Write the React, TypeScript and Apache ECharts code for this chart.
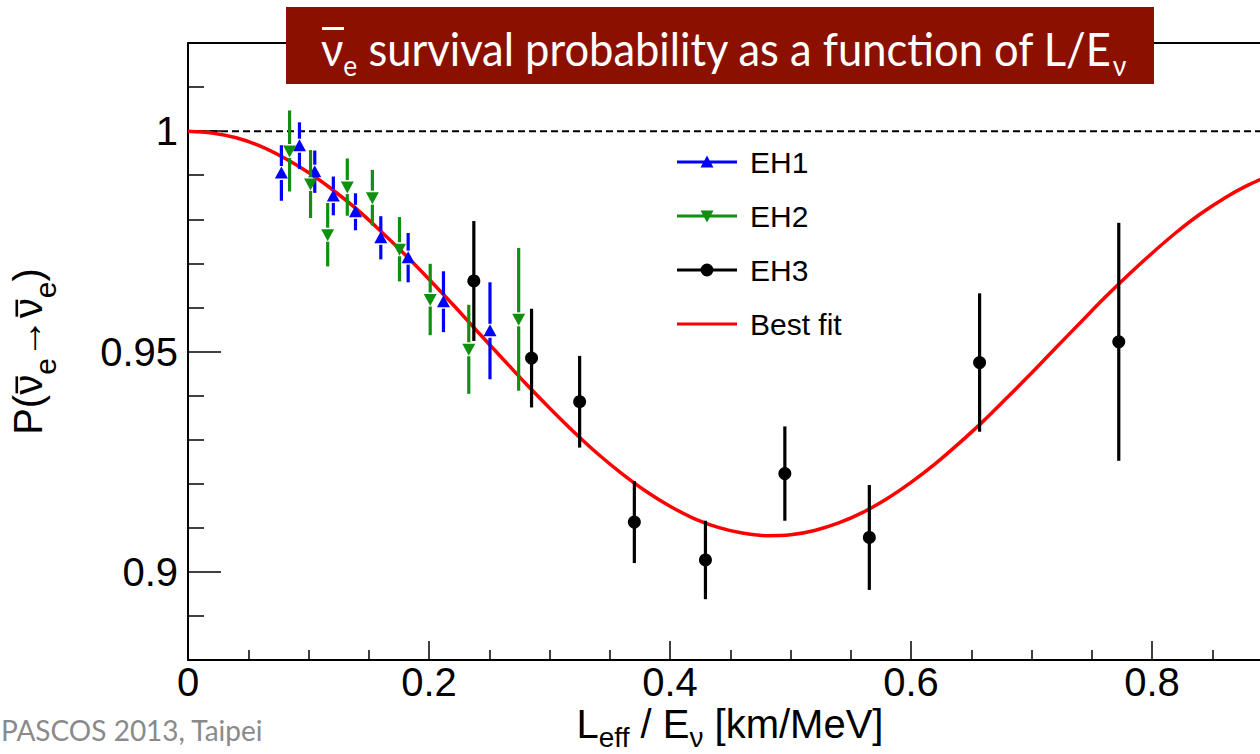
import { useEffect, useRef } from "react";
import * as echarts from "echarts";

// ---- data ----
const eh1X = [0.0775, 0.0925, 0.1052, 0.1206, 0.139, 0.16, 0.1827, 0.212, 0.2506];
const eh1Y = [0.9905, 0.9967, 0.9908, 0.9853, 0.9817, 0.9758, 0.9713, 0.9613, 0.9547];
const eh1Err = [0.0063, 0.0053, 0.0048, 0.0044, 0.0042, 0.0049, 0.0056, 0.0069, 0.011];

const eh2X = [0.0843, 0.1017, 0.1159, 0.1322, 0.153, 0.1755, 0.201, 0.233, 0.2744];
const eh2Y = [0.9955, 0.988, 0.9765, 0.9873, 0.9849, 0.9732, 0.9618, 0.9505, 0.9573];
const eh2Err = [0.0092, 0.0077, 0.0072, 0.0065, 0.0063, 0.0073, 0.0081, 0.0101, 0.0162];

const eh3X = [0.2372, 0.2851, 0.325, 0.3704, 0.4294, 0.4953, 0.5654, 0.6569, 0.7724];
const eh3Y = [0.966, 0.9485, 0.9386, 0.9113, 0.9027, 0.9223, 0.9078, 0.9475, 0.9522];
const eh3Err = [0.0136, 0.0112, 0.0104, 0.0093, 0.0089, 0.0107, 0.0119, 0.0157, 0.027];

const fitX = [
  0, 0.02, 0.04, 0.06, 0.08, 0.1, 0.12, 0.14, 0.16, 0.18, 0.2, 0.22, 0.24, 0.26, 0.28, 0.3,
  0.32, 0.34, 0.36, 0.38, 0.4, 0.42, 0.44, 0.46, 0.48, 0.5, 0.52, 0.54, 0.56, 0.58, 0.6,
  0.62, 0.64, 0.66, 0.68, 0.7, 0.72, 0.74, 0.76, 0.78, 0.8, 0.82, 0.84, 0.86, 0.88, 0.9,
];
const fitY = [
  1.0, 0.9996, 0.9985, 0.9966, 0.9939, 0.9906, 0.9867, 0.9823, 0.9773, 0.972, 0.9664, 0.9606,
  0.9546, 0.9487, 0.9428, 0.9372, 0.9318, 0.9268, 0.9223, 0.9183, 0.9149, 0.9121, 0.9101,
  0.9088, 0.9082, 0.9084, 0.9094, 0.9111, 0.9135, 0.9166, 0.9203, 0.9245, 0.9292, 0.9342,
  0.9396, 0.9451, 0.9508, 0.9564, 0.962, 0.9673, 0.9723, 0.977, 0.9812, 0.9848, 0.9878, 0.9902,
];

const xMajor = [0, 0.2, 0.4, 0.6, 0.8];
const xMinor = [0.05, 0.1, 0.15, 0.25, 0.3, 0.35, 0.45, 0.5, 0.55, 0.65, 0.7, 0.75, 0.85];
const yMajor = [0.9, 0.95, 1.0];
const yMinor = [0.89, 0.91, 0.92, 0.93, 0.94, 0.96, 0.97, 0.98, 0.99, 1.01];

const X_MIN = 0;
const X_MAX = 0.8896;
const Y_MIN = 0.88;
const Y_MAX = 1.02;

const FONT = "Liberation Sans";
const BLUE = "#0000ff";
const GREEN = "#109010";
const BLACK = "#000000";
const RED = "#ff0000";

const GRID_TOP = 43;
const GRID_BOTTOM_PX = 660;

const iconBox = "M0,0L0.01,0Z M68,30L67.99,30Z ";
const iconLine = "M0,13.5L60,13.5L60,16.5L0,16.5Z ";
const ICON_UP = "path://" + iconBox + iconLine + "M30,8.5L36.5,20.5L23.5,20.5Z";
const ICON_DOWN = "path://" + iconBox + iconLine + "M23.5,9.5L36.5,9.5L30,21.5Z";
const ICON_CIRCLE = "path://" + iconBox + iconLine + "M23.5,15A6.5,6.5 0 1,1 36.5,15A6.5,6.5 0 1,1 23.5,15Z";
const ICON_FIT = "path://" + iconBox + iconLine;

function makeRender(kind: "up" | "down" | "circle", color: string) {
  return (_params: any, api: any) => {
    const x = api.value(0);
    const y = api.value(1);
    const e = api.value(2);
    const c = api.coord([x, y]);
    const t = api.coord([x, y + e]);
    const b = api.coord([x, y - e]);
    const children: any[] = [];
    const gap = kind === "circle" ? 0 : 7;
    const ls = { stroke: color, lineWidth: 3.2 };
    if (c[1] - gap > t[1]) children.push({ type: "line", shape: { x1: c[0], y1: t[1], x2: c[0], y2: c[1] - gap }, style: ls });
    if (c[1] + gap < b[1]) children.push({ type: "line", shape: { x1: c[0], y1: c[1] + gap, x2: c[0], y2: b[1] }, style: ls });
    if (kind === "up") {
      children.push({ type: "polygon", shape: { points: [[c[0], c[1] - 6.5], [c[0] + 6.5, c[1] + 5.5], [c[0] - 6.5, c[1] + 5.5]] }, style: { fill: color } });
    } else if (kind === "down") {
      children.push({ type: "polygon", shape: { points: [[c[0] - 6.5, c[1] - 5.5], [c[0] + 6.5, c[1] - 5.5], [c[0], c[1] + 6.5]] }, style: { fill: color } });
    } else {
      children.push({ type: "circle", shape: { cx: c[0], cy: c[1], r: 6.5 }, style: { fill: color } });
    }
    return { type: "group", children };
  };
}

const fmtX = (v: number) => (v === 0 ? "0" : String(Number(v.toFixed(2))));
const fmtY = (v: number) => String(Number(v.toFixed(2)));

function measure(text: string, size: number, family: string) {
  const cv = document.createElement("canvas");
  const ctx = cv.getContext("2d");
  if (!ctx) return text.length * size * 0.5;
  ctx.font = `${size}px ${family}`;
  return ctx.measureText(text).width;
}

export default function App() {
  const ref = useRef<HTMLDivElement>(null);
  useEffect(() => {
    if (!ref.current) return;
    const chart = echarts.init(ref.current, null, { renderer: "svg" });
    const tickLine = { color: "#000", width: 1.5 };
    const subStyle = { fontSize: 30, lineHeight: 30, verticalAlign: "bottom", fontFamily: FONT, color: "#000" };
    const subStyleX = { fontSize: 28, lineHeight: 28, verticalAlign: "bottom", fontFamily: FONT, color: "#000" };

    // overbars for the rotated y-axis title (nu-bar)
    const wP = measure("P(", 40, FONT);
    const wNu = measure("ν", 40, FONT);
    const wE = measure("e", 30, FONT);
    const wArr = measure("→", 40, FONT);
    const wClose = measure(")", 40, FONT);
    const wTotal = wP + wNu + wE + wArr + wNu + wE + wClose;
    const yMid = (GRID_TOP + GRID_BOTTOM_PX) / 2;
    const start = yMid + wTotal / 2;
    const nu1End = start - wP;
    const nu2End = start - (wP + wNu + wE + wArr);
    const barX = 15.5;
    const bars = [nu1End, nu2End].map((end) => ({
      type: "rect",
      z: 100,
      shape: { x: barX, y: end - wNu + 1.5, width: 2.6, height: wNu - 3 },
      style: { fill: "#000" },
    }));

    const option: any = {
      animation: false,
      backgroundColor: "#ffffff",
      grid: { left: 188, right: 0, top: GRID_TOP, bottom: 754 - GRID_BOTTOM_PX, containLabel: false, outerBoundsMode: "none" },
      legend: {
        orient: "vertical",
        left: 672,
        top: 142,
        itemWidth: 68,
        itemHeight: 30,
        itemGap: 24,
        selectedMode: false,
        textStyle: { fontSize: 30, fontFamily: FONT, color: "#000", lineHeight: 30 },
        data: [
          { name: "EH1", icon: ICON_UP },
          { name: "EH2", icon: ICON_DOWN },
          { name: "EH3", icon: ICON_CIRCLE },
          { name: "Best fit", icon: ICON_FIT },
        ],
      },
      xAxis: [
        {
          type: "value",
          min: X_MIN,
          max: X_MAX,
          position: "bottom",
          axisLine: { show: true, onZero: false, lineStyle: { color: "#000", width: 2 } },
          axisTick: { show: true, inside: true, length: 19, customValues: xMajor, lineStyle: tickLine },
          axisLabel: { show: true, customValues: xMajor, formatter: fmtX, fontSize: 40, fontFamily: FONT, color: "#000", margin: 2 },
          splitLine: { show: false },
          name: "L{s|eff} / E{s|ν} [km/MeV]",
          nameLocation: "middle",
          nameGap: 37,
          nameMoveOverlap: false,
          nameTextStyle: {
            fontSize: 40,
            fontFamily: FONT,
            color: "#000",
            lineHeight: 54,
            padding: [0, 0, 0, 12],
            rich: { s: subStyleX },
          },
        },
        {
          type: "value",
          min: X_MIN,
          max: X_MAX,
          position: "bottom",
          axisLine: { show: false, onZero: false },
          axisTick: { show: true, inside: true, length: 10, customValues: xMinor, lineStyle: tickLine },
          axisLabel: { show: false },
          splitLine: { show: false },
        },
        {
          type: "value",
          min: X_MIN,
          max: X_MAX,
          position: "top",
          axisLine: { show: true, onZero: false, lineStyle: { color: "#000", width: 2 } },
          axisTick: { show: false },
          axisLabel: { show: false },
          splitLine: { show: false },
        },
      ],
      yAxis: [
        {
          type: "value",
          min: Y_MIN,
          max: Y_MAX,
          position: "left",
          axisLine: { show: true, onZero: false, lineStyle: { color: "#000", width: 2 } },
          axisTick: { show: true, inside: true, length: 33, customValues: yMajor, lineStyle: tickLine },
          axisLabel: { show: true, customValues: yMajor, formatter: fmtY, fontSize: 40, fontFamily: FONT, color: "#000", margin: 10 },
          splitLine: { show: false },
          name: "P(ν{s|e}→ν{s|e})",
          nameLocation: "middle",
          nameRotate: 90,
          nameGap: 128,
          nameMoveOverlap: false,
          nameTextStyle: {
            fontSize: 40,
            fontFamily: FONT,
            color: "#000",
            lineHeight: 65,
            rich: { s: subStyle },
          },
        },
        {
          type: "value",
          min: Y_MIN,
          max: Y_MAX,
          position: "left",
          axisLine: { show: false, onZero: false },
          axisTick: { show: true, inside: true, length: 16, customValues: yMinor, lineStyle: tickLine },
          axisLabel: { show: false },
          splitLine: { show: false },
        },
      ],
      series: [
        {
          type: "line",
          name: "unity",
          data: [[X_MIN, 1], [X_MAX, 1]],
          symbol: "none",
          silent: true,
          lineStyle: { color: "#000", width: 2, type: [7, 4] },
          z: 1,
        },
        {
          type: "line",
          name: "Best fit",
          data: fitX.map((x, i) => [x, fitY[i]]),
          symbol: "none",
          smooth: 0.3,
          color: RED,
          itemStyle: { color: RED },
          lineStyle: { color: RED, width: 3.5 },
          z: 2,
        },
        {
          type: "custom",
          name: "EH1",
          renderItem: makeRender("up", BLUE),
          data: eh1X.map((x, i) => [x, eh1Y[i], eh1Err[i]]),
          itemStyle: { color: BLUE },
          encode: { x: 0, y: 1 },
          z: 3,
        },
        {
          type: "custom",
          name: "EH2",
          renderItem: makeRender("down", GREEN),
          data: eh2X.map((x, i) => [x, eh2Y[i], eh2Err[i]]),
          itemStyle: { color: GREEN },
          encode: { x: 0, y: 1 },
          z: 3,
        },
        {
          type: "custom",
          name: "EH3",
          renderItem: makeRender("circle", BLACK),
          data: eh3X.map((x, i) => [x, eh3Y[i], eh3Err[i]]),
          itemStyle: { color: BLACK },
          encode: { x: 0, y: 1 },
          z: 3,
        },
      ],
      graphic: [
        { type: "rect", z: 100, shape: { x: 286, y: 7, width: 868, height: 77 }, style: { fill: "#8b1000" } },
        {
          type: "text",
          z: 101,
          x: 321,
          y: 49,
          scaleX: 0.945,
          style: {
            text: "{n|ν}{s|e}{n| survival probability as a function of L/E}{s|ν}",
            fill: "#fff",
            verticalAlign: "middle",
            rich: {
              n: { fontSize: 46, fontFamily: "Lato", lineHeight: 60, fill: "#fff" },
              s: { fontSize: 28, fontFamily: "Lato", lineHeight: 28, verticalAlign: "bottom", fill: "#fff" },
            },
          },
        },
        { type: "rect", z: 102, shape: { x: 322, y: 27, width: 22, height: 3 }, style: { fill: "#fff" } },
        ...bars,
        {
          type: "text",
          z: 100,
          x: 1,
          y: 716,
          style: { text: "PASCOS 2013, Taipei", fill: "#8a8a8a", fontSize: 28, fontFamily: "Lato" },
        },
      ],
    };
    chart.setOption(option);
    return () => chart.dispose();
  }, []);
  return (
    <div
      ref={ref}
      style={{ position: "fixed", left: 0, top: 0, width: 1260, height: 754, background: "#fff" }}
    />
  );
}
